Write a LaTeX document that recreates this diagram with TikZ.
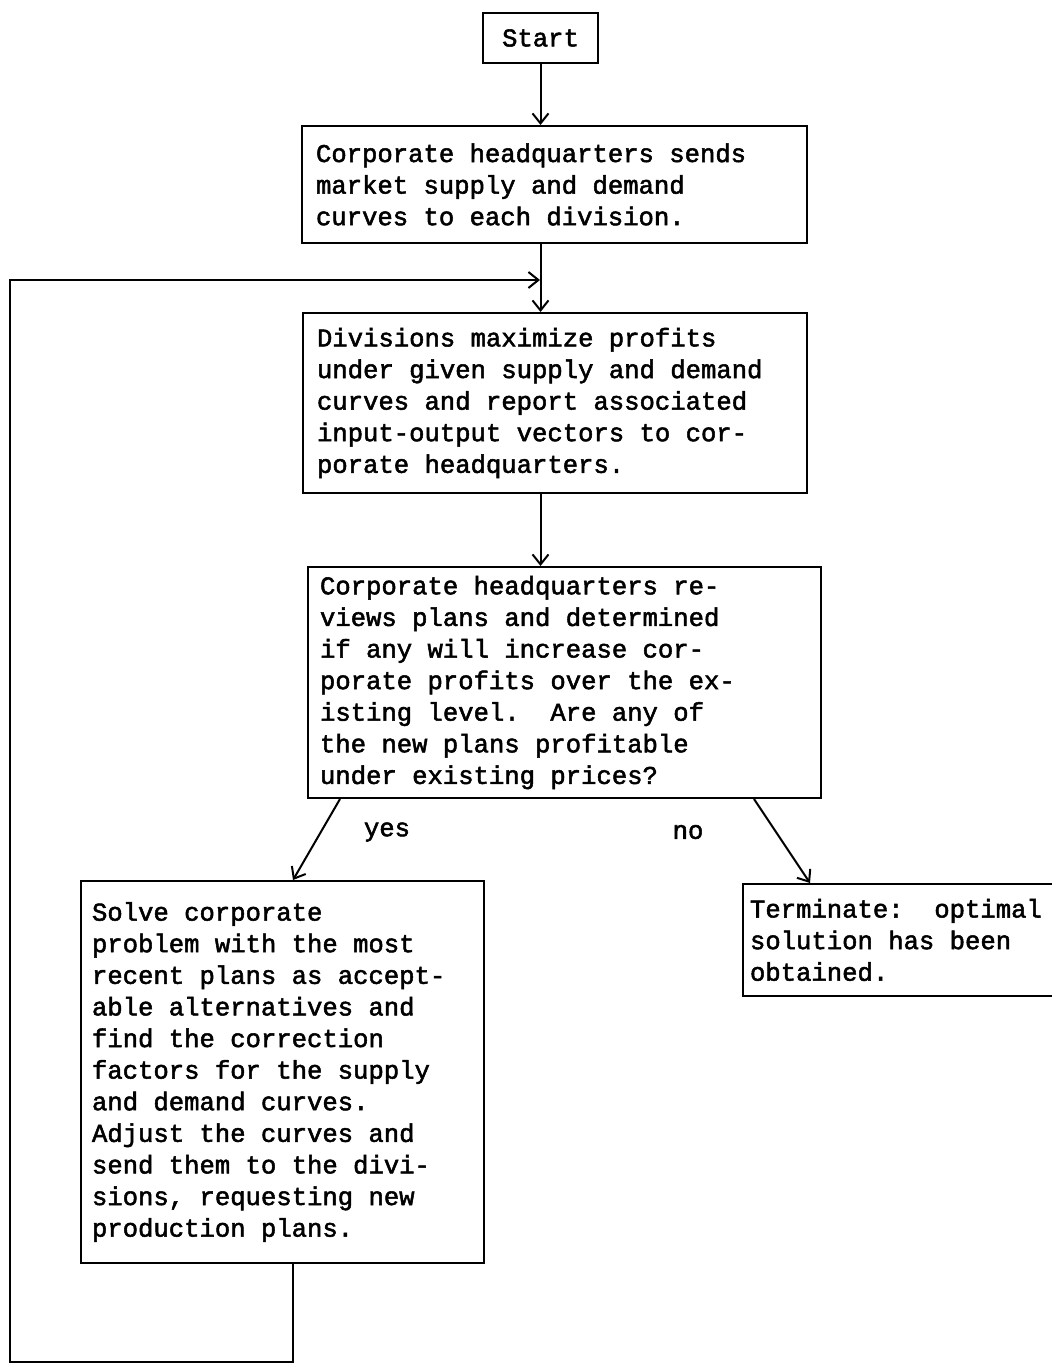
\documentclass[tikz,border=0pt]{standalone}
\usepackage{fontspec}
\setmonofont[WordSpace={1,0,0},FakeBold=2]{Liberation Mono}
\usetikzlibrary{arrows.meta,calc}
\begin{document}
\begin{tikzpicture}[x=0.5pt,y=-0.5pt,
  tw/.style={font=\ttfamily\fontsize{12.8pt}{15.8pt}\selectfont},
  box/.style={tw, draw, line width=1pt, anchor=north west, align=left, inner ysep=0pt,
    execute at begin node={\spaceskip=0pt\xspaceskip=0pt\relax}},
  arr/.style={line width=1pt, -{Straight Barb[length=5pt,width=8pt]}},
  conn/.style={line width=1pt}]
\useasboundingbox (0,0) rectangle (1051,1365);

\node[box, align=center, inner xsep=0pt, text width=57.5pt, minimum height=25pt] (start) at (482,12) {Start};

\node[box, inner xsep=7pt, text width=238.5pt, minimum height=58.5pt] (b2) at (301,125)
{Corporate headquarters sends\\market supply and demand\\curves to each division.};

\node[box, inner xsep=7pt, text width=238pt, minimum height=90pt] (b3) at (302,312)
{Divisions maximize profits\\under given supply and demand\\curves and report associated\\input-output vectors to cor-\\porate headquarters.};

\node[box, inner xsep=6pt, text width=244.5pt, minimum height=115.5pt] (b4) at (307,566)
{Corporate headquarters re-\\views plans and determined\\if any will increase cor-\\porate profits over the ex-\\isting level.~~Are any of\\the new plans profitable\\under existing prices?};

\node[box, inner xsep=5.5pt, text width=190.5pt, minimum height=191pt] (b5) at (80,880)
{Solve corporate\\problem with the most\\recent plans as accept-\\able alternatives and\\find the correction\\factors for the supply\\and demand curves.\\Adjust the curves and\\send them to the divi-\\sions, requesting new\\production plans.};

\node[box, inner xsep=3.5pt, text width=150pt, minimum height=56pt] (b6) at (742,883)
{Terminate:~~optimal\\solution has been\\obtained.};

\node[tw] (yes) at (387,832) {yes};
\node[tw] (no) at (688,832) {no};

\coordinate (join) at (540,280);
\coordinate (c1) at (10,1362);
\coordinate (c2) at (10,280);

\draw[arr] (start.south) -- (start.south |- b2.north);
\draw[arr] (start.south |- b2.south) -- (start.south |- b3.north);
\draw[arr] (start.south |- b3.south) -- (start.south |- b4.north);
\draw[arr] ([xshift=16.5pt]b4.south west) -- ([xshift=106.5pt]b5.north west);
\draw[arr] ([xshift=-34pt]b4.south east) -- ([xshift=34pt]b6.north west);
\draw[arr] ([xshift=106.5pt]b5.south west) |- (c1) -- (c2) -- (join);
\end{tikzpicture}
\end{document}
